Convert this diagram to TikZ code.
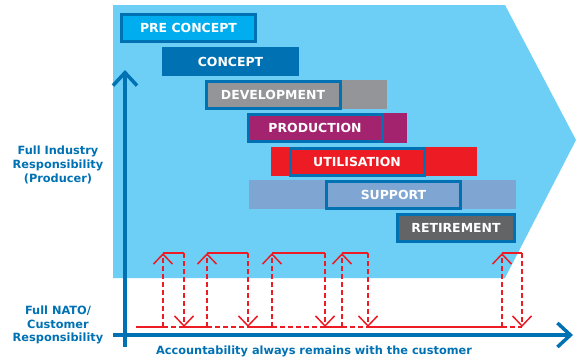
\documentclass[tikz,border=0pt]{standalone}
\usepackage{fontspec}
\setmainfont{DejaVu Sans}
\usetikzlibrary{arrows.meta}

\definecolor{skyblue}{HTML}{6DCFF6}
\definecolor{natoblue}{HTML}{0071B3}
\definecolor{precyan}{HTML}{00AEEF}
\definecolor{devgray}{HTML}{939598}
\definecolor{prodmagenta}{HTML}{A3236F}
\definecolor{utilred}{HTML}{ED1C24}
\definecolor{supportblue}{HTML}{7FA6D2}
\definecolor{retiregray}{HTML}{636466}

\tikzset{
  phase/.style={draw=natoblue, line width=3bp, text=white, inner sep=0pt,
    minimum width=134bp, minimum height=27bp,
    font=\bfseries\fontsize{12.5}{14}\selectfont},
  span/.style={inner sep=0pt, minimum height=29bp},
  sidelabel/.style={align=center, text=natoblue,
    font=\bfseries\fontsize{11.4}{13.8}\selectfont},
  axis/.style={natoblue, line width=3.5bp, -{Straight Barb[length=13bp, width=24bp]}},
  feedback/.style={utilred, line width=1.5bp},
  feedarrow/.style={feedback, dash pattern=on 5bp off 3bp, -{Straight Barb[length=10bp, width=19bp]}},
}

\begin{document}
\begin{tikzpicture}[x=1bp, y=-1bp]
  \useasboundingbox (0,0) rectangle (576,360);

  \fill[skyblue] (113,5) -- (505,5) -- (576,140) -- (505,278) -- (113,278) -- cycle;

  % longer bars behind the phases
  \node[span, fill=devgray,     minimum width=182bp] at (296,  94.5) (devspan) {};
  \node[span, fill=prodmagenta, minimum width=160bp, minimum height=30bp] at (327, 128) (prodspan) {};
  \node[span, fill=utilred,     minimum width=206bp] at (374, 161.5) (utilspan) {};
  \node[span, fill=supportblue, minimum width=267bp] at (382.5, 194.5) (supportspan) {};

  % phases
  \node[phase, fill=precyan]     at (188.5, 28)   (precon)  {PRE CONCEPT};
  \node[phase, draw=none, fill=natoblue, minimum width=137bp, minimum height=29bp]
                                 at (230.5, 61.5) (concept) {CONCEPT};
  \node[phase, fill=devgray]     at (273, 94.5)   (devel)   {DEVELOPMENT};
  \node[phase, fill=prodmagenta] at (315, 128)    (prod)    {PRODUCTION};
  \node[phase, fill=utilred]     at (357, 161.5)  (util)    {UTILISATION};
  \node[phase, fill=supportblue] at (393.5, 194.5) (support) {SUPPORT};
  \node[phase, fill=retiregray, minimum width=117bp] at (456, 228) (retire) {RETIREMENT};

  % axes
  \coordinate (yfoot) at (125,347);
  \coordinate (ytip)  at (125,70);
  \coordinate (xfoot) at (113,335);
  \coordinate (xtip)  at (573,335);
  \draw[axis] (yfoot) -- (ytip);
  \draw[axis] (xfoot) -- (xtip);

  % hand-over loops
  \coordinate (start) at (136,327);
  \foreach \u/\d [count=\i] in {163/184, 207/248, 272/325, 342/368, 502/522} {
    \coordinate (up\i)  at (\u,327);
    \coordinate (upt\i) at (\u,253);
    \coordinate (dnt\i) at (\d,253);
    \coordinate (dn\i)  at (\d,327);
    \draw[feedback, dash pattern=on 5bp off 3bp] (up\i) -- (dn\i);
    \draw[feedarrow] (up\i) -- (upt\i);
    \draw[feedback] (upt\i) -- (dnt\i);
    \draw[feedarrow] (dnt\i) -- (dn\i);
  }
  \foreach \a/\b in {start/up1, dn1/up2, dn2/up3, dn3/up4, dn4/up5}
    \draw[feedback] (\a) -- (\b);

  % labels
  \node[sidelabel] at (58,165) (industry) {Full Industry\\Responsibility\\(Producer)};
  \node[sidelabel] at (58,325) (customer) {Full NATO/\\Customer\\Responsibility};
  \node[sidelabel] at (314,351) (account) {Accountability always remains with the customer};
\end{tikzpicture}
\end{document}
